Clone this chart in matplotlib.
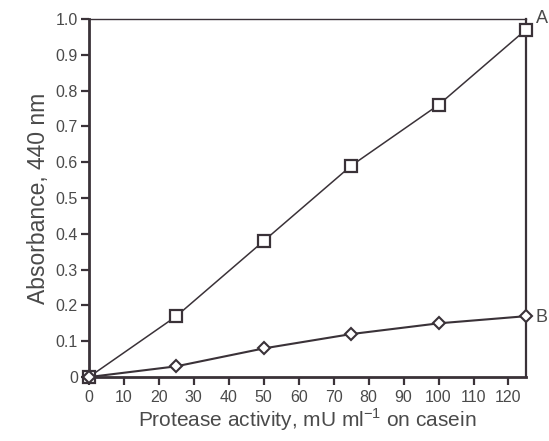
import matplotlib
matplotlib.use("Agg")
import matplotlib.pyplot as plt

plt.rcParams["font.family"] = ["Liberation Sans", "DejaVu Sans"]
plt.rcParams["mathtext.fontset"] = "custom"
plt.rcParams["mathtext.rm"] = "Liberation Sans"

# protease activity (mU/ml on casein)
activity = [0, 25, 50, 75, 100, 125]
# absorbance at 440 nm
abs_a = [0, 0.17, 0.38, 0.59, 0.76, 0.97]
abs_b = [0, 0.03, 0.08, 0.12, 0.15, 0.17]
series_names = ["A", "B"]

xticks = list(range(0, 130, 10))
yticks = [0, 0.1, 0.2, 0.3, 0.4, 0.5, 0.6, 0.7, 0.8, 0.9, 1.0]
ytick_labels = ["0", "0.1", "0.2", "0.3", "0.4", "0.5", "0.6", "0.7", "0.8", "0.9", "1.0"]

line_col = "#3a3238"
text_col = "#4a4a4a"

fig = plt.figure(figsize=(5.49, 4.41), dpi=100)
ax = fig.add_axes([0.162, 0.145, 0.796, 0.812])

ax.plot(activity, abs_a, color=line_col, lw=1.1, marker="s", ms=8,
        mfc="white", mec=line_col, mew=1.6, clip_on=False, zorder=3)
ax.plot(activity, abs_b, color=line_col, lw=1.5, marker="D", ms=6,
        mfc="white", mec=line_col, mew=1.5, clip_on=False, zorder=3)

# series labels at the right end
ax.text(activity[-1] + 2.8, abs_a[-1] + 0.03, series_names[0], fontsize=13,
        color=text_col, va="center", ha="left")
ax.text(activity[-1] + 2.8, abs_b[-1] - 0.005, series_names[1], fontsize=13,
        color=text_col, va="center", ha="left")

ax.set_xlim(0, 125)
ax.set_ylim(0, 1.0)
ax.set_xticks(xticks)
ax.set_yticks(yticks)
ax.set_yticklabels(ytick_labels)

ax.spines["left"].set_linewidth(2.0)
ax.spines["bottom"].set_linewidth(2.0)
ax.spines["top"].set_linewidth(1.0)
ax.spines["right"].set_linewidth(1.6)
for s in ax.spines.values():
    s.set_color(line_col)

ax.tick_params(direction="out", length=6, width=1.6, colors=line_col,
               labelcolor=text_col, labelsize=11.5)
ax.tick_params(axis="x", pad=3)
ax.tick_params(axis="y", pad=2)

ax.set_xlabel("Protease activity, mU ml$^{-1}$ on casein", fontsize=15,
              color=text_col, labelpad=1)
ax.set_ylabel("Absorbance, 440 nm", fontsize=16.5, color=text_col, labelpad=4)

fig.savefig("out.png", dpi=100)
